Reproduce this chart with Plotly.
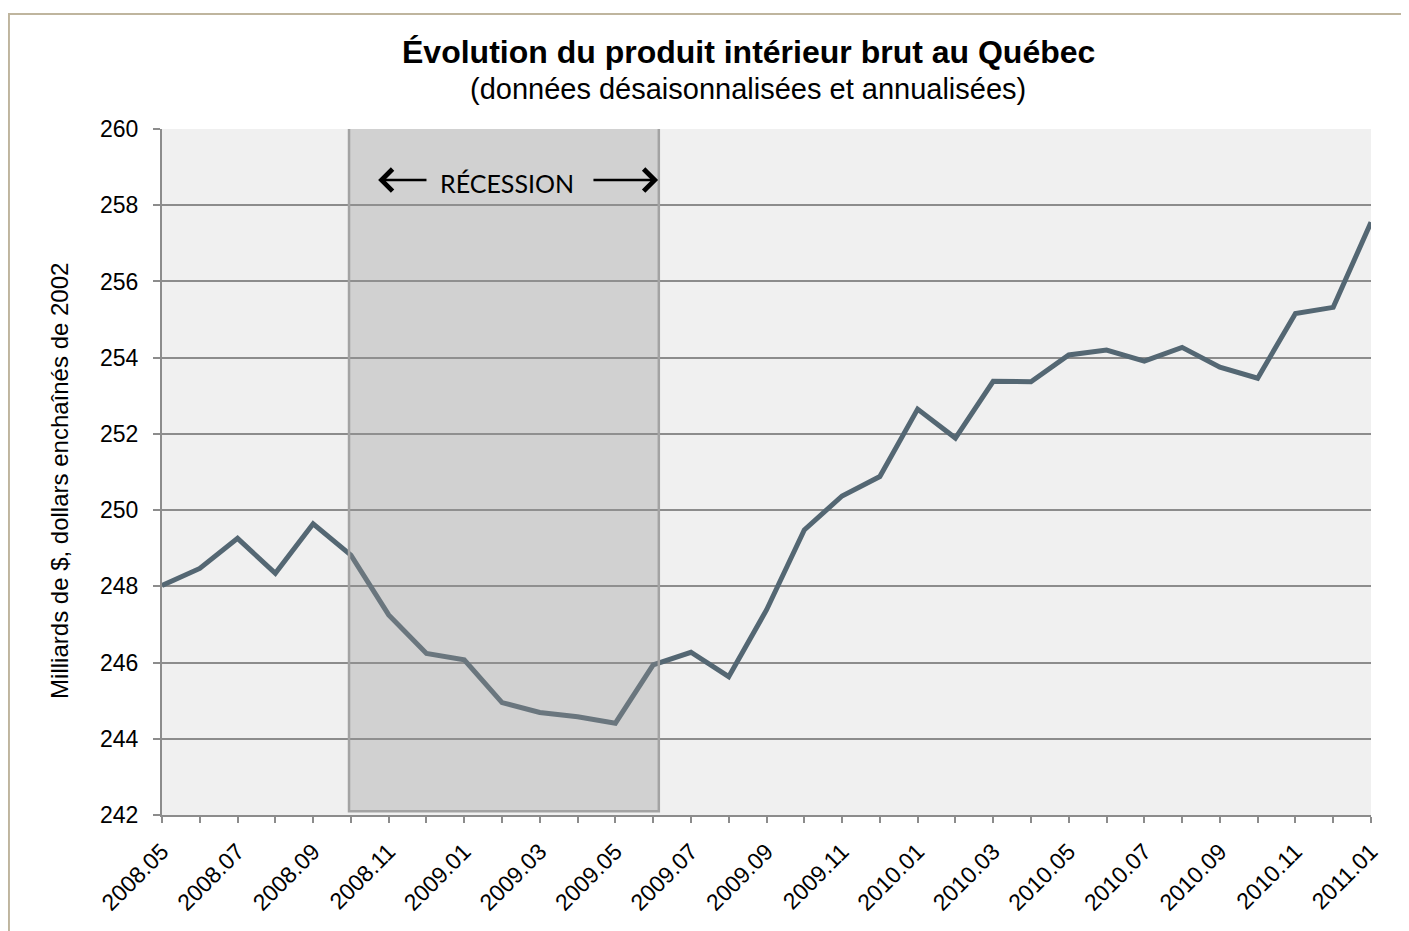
import plotly.graph_objects as go

# ---- data ----
months = ["2008.05", "2008.06", "2008.07", "2008.08", "2008.09", "2008.10", "2008.11", "2008.12",
          "2009.01", "2009.02", "2009.03", "2009.04", "2009.05", "2009.06", "2009.07", "2009.08",
          "2009.09", "2009.10", "2009.11", "2009.12", "2010.01", "2010.02", "2010.03", "2010.04",
          "2010.05", "2010.06", "2010.07", "2010.08", "2010.09", "2010.10", "2010.11", "2010.12",
          "2011.01"]
gdp = [248.02, 248.47, 249.26, 248.34, 249.64, 248.82, 247.25, 246.24,
       246.07, 244.95, 244.69, 244.58, 244.41, 245.94, 246.27, 245.63,
       247.38, 249.48, 250.37, 250.88, 252.65, 251.89, 253.38, 253.37,
       254.07, 254.20, 253.91, 254.27, 253.75, 253.46, 255.16, 255.32,
       257.55]
tick_labels = ["2008.05", "2008.07", "2008.09", "2008.11", "2009.01", "2009.03", "2009.05",
               "2009.07", "2009.09", "2009.11", "2010.01", "2010.03", "2010.05", "2010.07",
               "2010.09", "2010.11", "2011.01"]
y_ticks = [242, 244, 246, 248, 250, 252, 254, 256, 258, 260]
recession = (4.95, 13.15)   # category-index span of the shaded recession box

title = "Évolution du produit intérieur brut au Québec"
subtitle = "(données désaisonnalisées et annualisées)"
y_title = "Milliards de $, dollars enchaînés de 2002"

GRID = "#8c8c8c"
FONT = "Liberation Sans, Arial, sans-serif"

fig = go.Figure()
fig.add_trace(go.Scatter(
    x=months, y=gdp, mode="lines",
    line=dict(color="rgb(84,103,115)", width=5),
    hoverinfo="x+y", showlegend=False,
))

# recession box (drawn above the line, semi-transparent)
fig.add_shape(type="rect", xref="x", yref="y",
              x0=recession[0], x1=recession[1], y0=242.1, y1=260.05,
              fillcolor="rgba(150,150,150,0.34)",
              line=dict(color="#a3a3a3", width=2.5), layer="above")

# outer chart border
fig.add_shape(type="rect", xref="paper", yref="paper",
              x0=-0.1266, x1=1.06, y0=-0.2, y1=1.1676,
              fillcolor="rgba(0,0,0,0)",
              line=dict(color="#bfb59e", width=2), layer="below")

ann = []
ann.append(dict(text="<b>" + title + "</b>", xref="paper", yref="paper",
                x=0.4847, y=1.1122, showarrow=False,
                font=dict(family=FONT, size=32, color="black"),
                xanchor="center", yanchor="middle"))
ann.append(dict(text=subtitle, xref="paper", yref="paper",
                x=0.4847, y=1.0583, showarrow=False,
                font=dict(family=FONT, size=29, color="black"),
                xanchor="center", yanchor="middle"))
ann.append(dict(text=y_title, xref="paper", yref="paper",
                x=-0.0844, y=0.487, showarrow=False, textangle=-90,
                font=dict(family=FONT, size=24, color="black"),
                xanchor="center", yanchor="middle"))
ann.append(dict(text="RÉCESSION", xref="x", yref="y",
                x=9.13, y=258.58, showarrow=False,
                font=dict(family="Lato, Open Sans, sans-serif", size=25, color="black"),
                xanchor="center", yanchor="middle"))
# arrows
ann.append(dict(text="", xref="x", yref="y", axref="x", ayref="y",
                x=5.72, y=258.66, ax=7.04, ay=258.66, showarrow=True,
                arrowhead=4, arrowsize=1.7, arrowwidth=2.5, arrowcolor="black"))
ann.append(dict(text="", xref="x", yref="y", axref="x", ayref="y",
                x=13.13, y=258.66, ax=11.38, ay=258.66, showarrow=True,
                arrowhead=4, arrowsize=1.7, arrowwidth=2.5, arrowcolor="black"))

# page body has an 8px margin: shift the figure so the plot area lands where the reference has it
fig.update_layout(
    width=1401, height=923,
    margin=dict(l=154, r=38, t=121, b=116),
    paper_bgcolor="white", plot_bgcolor="#f0f0f0",
    annotations=ann,
    font=dict(family=FONT, color="black"),
)
fig.update_xaxes(
    type="category", categoryorder="array", categoryarray=months,
    range=[0, len(months) - 1],
    tickmode="array", tickvals=months,
    ticktext=[m if m in tick_labels else "" for m in months],
    tickangle=-45, ticks="outside", ticklen=6, tickwidth=2, tickcolor=GRID,
    showline=True, linecolor=GRID, linewidth=2,
    showgrid=False, zeroline=False,
    tickfont=dict(family=FONT, size=23, color="black"),
    ticklabelstandoff=6,
)
fig.update_yaxes(
    range=[242, 260], tickmode="array", tickvals=y_ticks,
    ticks="outside", ticklen=7, tickwidth=2, tickcolor=GRID,
    showline=True, linecolor=GRID, linewidth=2,
    showgrid=True, gridcolor=GRID, gridwidth=2, zeroline=False,
    tickfont=dict(family=FONT, size=23, color="black"),
    ticklabelstandoff=10,
)

fig.write_html("out.html")
